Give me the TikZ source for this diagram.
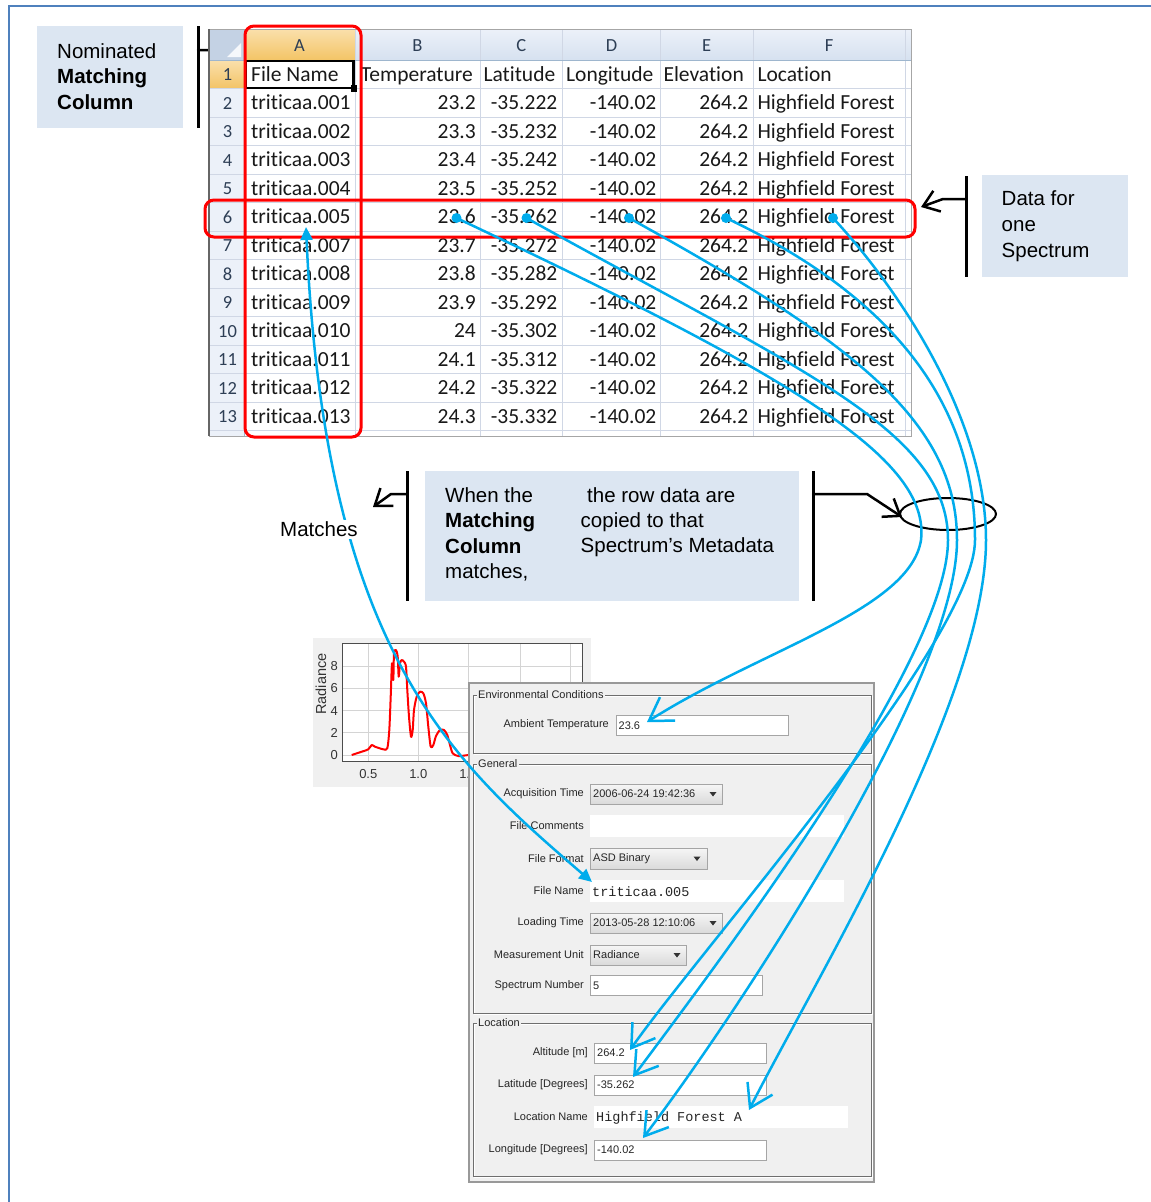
\documentclass[tikz,border=0pt]{standalone}
\usepackage{fontspec}
\setmainfont{Liberation Sans}
\newfontfamily\calibfont[Ligatures=NoCommon]{Carlito}
\newfontfamily\courfont{Liberation Mono}
\usetikzlibrary{arrows.meta,shapes.geometric}

\definecolor{calloutfill}{RGB}{220,230,242}
\definecolor{framecol}{RGB}{79,129,189}
\definecolor{gridcol}{RGB}{208,215,229}
\definecolor{hdrtop}{RGB}{236,241,249}
\definecolor{hdrbot}{RGB}{214,225,240}
\definecolor{hdrline}{RGB}{158,182,206}
\definecolor{hdrtext}{RGB}{45,62,85}
\definecolor{orgtop}{RGB}{250,224,172}
\definecolor{orgbot}{RGB}{243,196,102}
\definecolor{linkblue}{RGB}{0,172,236}
\definecolor{panelbg}{RGB}{240,240,240}
\definecolor{grpdark}{RGB}{110,110,110}
\definecolor{fieldborder}{RGB}{165,165,165}
\definecolor{combotop}{RGB}{246,246,246}
\definecolor{combobot}{RGB}{218,218,218}
\definecolor{plotbg}{RGB}{240,240,240}
\definecolor{plotgrid}{RGB}{212,212,212}
\definecolor{cornerfill}{RGB}{196,210,228}

\newcommand\ddtri[2]{\fill[black!80] (#1-3.5,#2-2) -- (#1+3.5,#2-2) -- (#1,#2+2.5) -- cycle;}

\tikzset{
  ctext/.style={font=\fontsize{20.5}{24}\selectfont, anchor=base west, inner sep=0pt},
  ctextb/.style={font=\fontsize{20.5}{24}\selectfont\bfseries, anchor=base west, inner sep=0pt},
  bracket/.style={line width=3pt},
  callarrow/.style={line width=2.5pt, -{Straight Barb[length=15pt,width=22pt]}, line join=round, line cap=round},
  sscell/.style={font=\calibfont\fontsize{21.5}{24}\selectfont, inner sep=0pt, text=black!90},
  colhdr/.style={font=\calibfont\fontsize{18.5}{20}\selectfont, inner sep=0pt, anchor=base, text=hdrtext},
  rownum/.style={font=\calibfont\fontsize{18.5}{20}\selectfont, inner sep=0pt, anchor=base, text=hdrtext},
  redbox/.style={draw=red, line width=3pt, rounded corners=9pt},
  linkcurve/.style={draw=linkblue, line width=2.5pt, -{Straight Barb[length=22pt,width=28pt]}, line cap=round, line join=round},
  fnlink/.style={draw=linkblue, line width=2.5pt, {Triangle[length=13pt,width=12pt]}-{Triangle[length=13pt,width=12pt]}},
  flab/.style={font=\fontsize{11}{13}\selectfont, anchor=east, inner sep=0pt, text=black!85},
  fval/.style={font=\fontsize{11}{13}\selectfont, anchor=west, inner sep=0pt, text=black!85},
  mval/.style={font=\courfont\fontsize{13.5}{15}\selectfont, anchor=west, inner sep=0pt, text=black!85},
  grptitle/.style={font=\fontsize{11}{13}\selectfont, anchor=west, inner sep=1.5pt, fill=panelbg, text=black!85},
  tfield/.style={fill=white, draw=fieldborder, line width=1pt},
  combo/.style={top color=combotop, bottom color=combobot, draw=fieldborder, line width=1pt},
  ticklab/.style={font=\fontsize{13}{15}\selectfont, inner sep=0pt, text=black!80}
}

\begin{document}
\begin{tikzpicture}[x=1pt,y=-1pt]
\useasboundingbox (0,0) rectangle (1151,1202);
\fill[white] (0,0) rectangle (1151,1202);
\draw[framecol, line width=1.5pt] (9,1202) -- (9,6) -- (1151,6);

% ---------------- callout: nominated matching column
\fill[calloutfill] (37,26) rectangle (183,128);
\node[ctext] (tl1) at (57,58.3) {Nominated};
\node[ctextb] (tl2) at (57,83.7) {Matching};
\node[ctextb] (tl3) at (57,109) {Column};
\draw[bracket] (198,26) -- (198,128);
\coordinate (tlA) at (198,50);
\coordinate (tlB) at (225,50.5);
\coordinate (tlTip) at (240,57);
\draw[callarrow] (tlA) -- (tlB) -- (tlTip);

% ---------------- callout: data for one spectrum
\fill[calloutfill] (982,175) rectangle (1128,277);
\node[ctext] (tr1) at (1001.5,205.7) {Data for};
\node[ctext] (tr2) at (1001.5,231.7) {one};
\node[ctext] (tr3) at (1001.5,257.5) {Spectrum};
\draw[bracket] (966,176) -- (966,277);
\coordinate (trA) at (966,199);
\coordinate (trB) at (943,199);
\coordinate (trTip) at (921,207);
\draw[callarrow] (trA) -- (trB) -- (trTip);

% ---------------- spreadsheet
\shade[top color=hdrtop, bottom color=hdrbot] (209,29) rectangle (911,60);
\shade[top color=orgtop, bottom color=orgbot] (244,29) rectangle (355,60);
\fill[hdrtop] (209,60) rectangle (244,436);
\shade[top color=orgtop, bottom color=orgbot] (209,60) rectangle (244,88.5);
\fill[white] (244,60) rectangle (911,436);
\fill[cornerfill] (209,29) rectangle (244,60);
\fill[white!85!cornerfill] (241,43) -- (241,57) -- (227,57) -- cycle;
\foreach \xx in {355,480,562.5,660.5,753,905} \draw[gridcol, line width=1pt] (\xx,29) -- (\xx,436);
\foreach \rr in {1,...,13} \draw[gridcol, line width=1pt] (209,60+28.5*\rr) -- (911,60+28.5*\rr);
\draw[hdrline, line width=1pt] (209,60) -- (911,60);
\draw[hdrline, line width=1pt] (244,29) -- (244,436);
\draw[black!35, line width=1pt] (209,29) rectangle (911,436);
\draw[black!60, line width=1.5pt] (209,29) -- (209,436);

\foreach \cc/\xx in {A/299.5,B/417.5,C/521.25,D/611.5,E/706.75,F/829}
  \node[colhdr] (H\cc) at (\xx,51.5) {\cc};
\foreach \rr in {1,...,13}{
  \pgfmathsetmacro\yb{52+28.5*\rr}
  \node[rownum] (R\rr) at (227.5,\yb) {\rr};
}

\node[sscell, anchor=base west] (A1) at (251,81.05) {File Name};
\node[sscell, anchor=base east] (B1) at (473,81.05) {Temperature};
\node[sscell, anchor=base west] (C1) at (483.3,81.05) {Latitude};
\node[sscell, anchor=base west] (D1) at (566,81.05) {Longitude};
\node[sscell, anchor=base west] (E1) at (663.3,81.05) {Elevation};
\node[sscell, anchor=base west] (F1) at (757.3,81.05) {Location};
\draw[black, line width=2.2pt] (245.5,61) rectangle (353.5,88);
\fill[black] (350.5,85) rectangle (357,91.5);

\foreach \rr/\fnum/\tval/\latv in {2/001/23.2/-35.222, 3/002/23.3/-35.232, 4/003/23.4/-35.242, 5/004/23.5/-35.252, 6/005/23.6/-35.262, 7/007/23.7/-35.272, 8/008/23.8/-35.282, 9/009/23.9/-35.292, 10/010/24/-35.302, 11/011/24.1/-35.312, 12/012/24.2/-35.322, 13/013/24.3/-35.332}{
  \pgfmathsetmacro\yb{52.55+28.5*\rr}
  \node[sscell, anchor=base west] (A\rr) at (251,\yb) {triticaa.\fnum};
  \node[sscell, anchor=base east] (B\rr) at (476,\yb) {\tval};
  \node[sscell, anchor=base east] (C\rr) at (557.5,\yb) {\latv};
  \node[sscell, anchor=base east] (D\rr) at (656.5,\yb) {-140.02};
  \node[sscell, anchor=base east] (E\rr) at (748.5,\yb) {264.2};
  \node[sscell, anchor=base west] (F\rr) at (757.3,\yb) {Highfield Forest};
}

\draw[redbox] (245,26) rectangle (361,437);
\draw[redbox] (205,200) rectangle (915,237);

% ---------------- middle callout
\fill[calloutfill] (425,471) rectangle (799,601);
\node[ctext] (m1) at (445,502) {When the};
\node[ctextb] (m2) at (445,527.5) {Matching};
\node[ctextb] (m3) at (445,553) {Column};
\node[ctext] (m4) at (445,578.3) {matches,};
\node[ctext] (m5) at (587,502) {the row data are};
\node[ctext] (m6) at (580.5,527.5) {copied to that};
\node[ctext] (m7) at (580.5,552.5) {Spectrum’s Metadata};
\draw[bracket] (407,471) -- (407,601);
\draw[bracket] (813,471) -- (813,601);
\node[draw, ellipse, line width=2pt, minimum width=96, minimum height=32, inner sep=0pt] (ell) at (948,514) {};
\coordinate (mlA) at (407,494);
\coordinate (mlB) at (391,494);
\coordinate (mlTip) at (373,507);
\coordinate (mrA) at (813,494);
\coordinate (mrB) at (867,494);
\coordinate (mrTip) at (902,517);

% ---------------- plot
\fill[plotbg] (313,638) rectangle (591,787);
\fill[white] (342,643) rectangle (582,761);
\foreach \xx in {368.3,418.3,468.3,520,570} \draw[plotgrid, line width=0.8pt] (\xx,643) -- (\xx,761);
\foreach \vv in {0,2,4,6,8} \draw[plotgrid, line width=0.8pt] (342,755-11.1*\vv) -- (582,755-11.1*\vv);
\draw[black!70, line width=1pt] (342,643) rectangle (582,761);
\foreach \vv in {0,2,4,6,8} \node[ticklab, anchor=east] (yt\vv) at (338,755-11.1*\vv) {\vv};
\node[ticklab, anchor=north] (xt1) at (368.3,769) {0.5};
\node[ticklab, anchor=north] (xt2) at (418.3,769) {1.0};
\node[ticklab, anchor=north] (xt3) at (468.3,769) {1.5};
\node[ticklab, rotate=90, font=\fontsize{14.5}{16}\selectfont] (ylab) at (321,684) {Radiance};
\draw[red, line width=2pt, line join=round] plot[smooth, tension=0.45] coordinates {
 (351.7,755) (361.7,751.7) (368.3,749.3) (371.7,745) (375,746.7) (383.3,749.3) (387.3,748.3)
 (389.3,730) (390.7,696.7) (392,663.3) (393.3,680) (394,653.3) (396,650) (397.7,656.7)
 (398.7,676.7) (400,663.3) (401.7,660) (404,661.7) (406,666.7) (407.3,690) (409,716.7)
 (411,736.7) (412.7,730) (414,710) (416.7,696.7) (420,691.7) (423.3,693.3) (426,703.3)
 (428.3,726.7) (430.7,746.7) (433.3,745) (436,736) (440,730) (444,730) (447.3,735)
 (450,745) (452.7,753.3) (458.3,756) (468.3,755) (480,753)};

% ---------------- metadata panel
\fill[panelbg] (469,683) rectangle (874,1182);
\draw[black!40, line width=1.5pt] (469,683) rectangle (874,1182);
\foreach \yt/\ybt in {695/753, 764/1013, 1023/1176}{
  \draw[white, line width=1pt] (474,\yt+1.2) rectangle (872,\ybt+1.2);
  \draw[grpdark, line width=1pt] (473,\yt) rectangle (871,\ybt);
}
\node[grptitle] (gEnv) at (476.5,695) {Environmental Conditions};
\node[grptitle] (gGen) at (476.5,764) {General};
\node[grptitle] (gLoc) at (476.5,1023) {Location};

\node[flab] (lAmb) at (609,725) {Ambient Temperature};
\draw[tfield] (616,715) rectangle (788,735);
\node[fval] (vAmb) at (618.5,725.5) {23.6};

\node[flab] (lAcq) at (584,794) {Acquisition Time};
\path[combo] (590,784) rectangle (722,804);
\node[fval] (vAcq) at (593,794) {2006-06-24 19:42:36};
\ddtri{713}{794}
\node[flab] (lCom) at (584,826) {File Comments};
\fill[white] (590,815) rectangle (844,837);
\node[flab] (lFmt) at (584,858.5) {File Format};
\path[combo] (590,848) rectangle (707,869);
\node[fval] (vFmt) at (593,858.5) {ASD Binary};
\ddtri{697}{858.5}
\node[flab] (lFN) at (584,891) {File Name};
\fill[white] (590,880) rectangle (844,902);
\node[mval] (vFN) at (592,891.5) {triticaa.005};
\node[flab] (lLT) at (584,923) {Loading Time};
\path[combo] (590,913) rectangle (722,933);
\node[fval] (vLT) at (593,923) {2013-05-28 12:10:06};
\ddtri{713}{923}
\node[flab] (lMU) at (584,955) {Measurement Unit};
\path[combo] (590,945) rectangle (686,965);
\node[fval] (vMU) at (593,955) {Radiance};
\ddtri{677}{955}
\node[flab] (lSN) at (584,985.5) {Spectrum Number};
\draw[tfield] (590,975) rectangle (762,995);
\node[fval] (vSN) at (593,985.5) {5};

\node[flab] (lAlt) at (588,1053) {Altitude [m]};
\draw[tfield] (594,1043) rectangle (766,1063);
\node[fval] (vAlt) at (597,1053) {264.2};
\node[flab] (lLat) at (588,1085) {Latitude [Degrees]};
\draw[tfield] (594,1075) rectangle (766,1095);
\node[fval] (vLat) at (597,1085) {-35.262};
\node[flab] (lLN) at (588,1117) {Location Name};
\fill[white] (594,1106) rectangle (848,1128);
\node[mval] (vLN) at (596,1117.5) {Highfield Forest A};
\node[flab] (lLon) at (588,1150) {Longitude [Degrees]};
\draw[tfield] (594,1140) rectangle (766,1160);
\node[fval] (vLon) at (597,1150) {-140.02};

% ---------------- blue links
\coordinate (s1) at (456.5,218);
\coordinate (s2) at (526.5,218);
\coordinate (s3) at (629,218);
\coordinate (s4) at (726,218);
\coordinate (s5) at (833,218);
\coordinate (b1) at (921,540);
\coordinate (b2) at (948,540);
\coordinate (b3) at (957,540);
\coordinate (b4) at (975,540);
\coordinate (b5) at (986,540);
\coordinate (tAmb) at (647,722);
\coordinate (tLat) at (633,1077);
\coordinate (tLon) at (643,1138);
\coordinate (tAlt) at (630,1050);
\coordinate (tLoc) at (749,1110);
\coordinate (tA6) at (306,227);
\coordinate (tFN) at (592,882);

\draw[linkcurve] (s1) .. controls (800,380) and (930,460) .. (b1) .. controls (910,610) and (760,650) .. (tAmb);
\draw[linkcurve] (s2) .. controls (800,370) and (948,430) .. (b2) .. controls (948,660) and (720,960) .. (tLat);
\draw[linkcurve] (s3) .. controls (850,340) and (957,420) .. (b3) .. controls (957,680) and (740,1010) .. (tLon);
\draw[linkcurve] (s4) .. controls (900,300) and (975,410) .. (b4) .. controls (975,640) and (700,950) .. (tAlt);
\draw[linkcurve] (s5) .. controls (900,290) and (986,420) .. (b5) .. controls (986,700) and (815,980) .. (tLoc);
\foreach \ss in {s1,s2,s3,s4,s5} \fill[linkblue] (\ss) circle[radius=5pt];

\draw[fnlink] (tA6) .. controls (325,650) and (450,760) .. (tFN);

\node[ctext, fill=white, inner sep=2pt] (matches) at (278,536.7) {Matches};
\draw[callarrow] (mlA) -- (mlB) -- (mlTip);
\draw[callarrow] (mrA) -- (mrB) -- (mrTip);
\end{tikzpicture}
\end{document}
